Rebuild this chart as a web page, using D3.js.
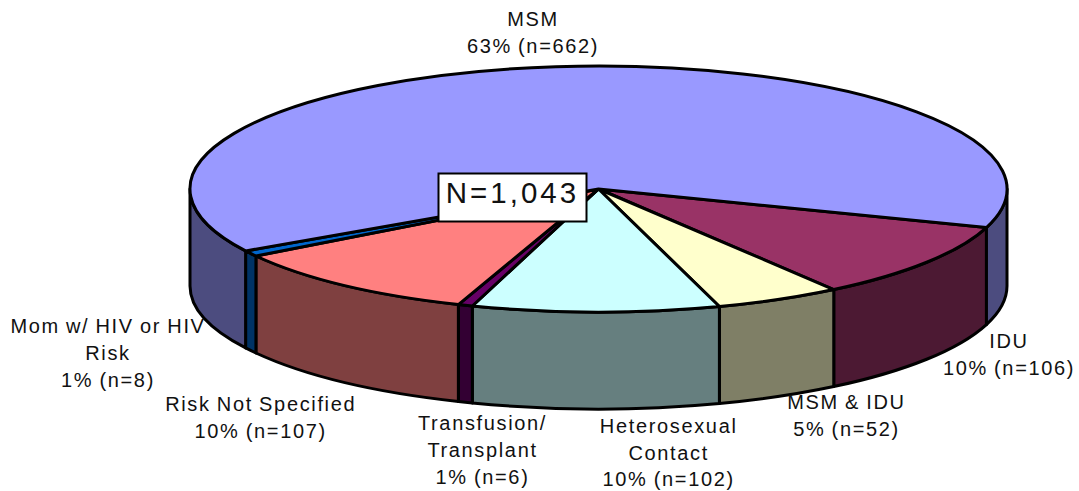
<!DOCTYPE html>
<html>
<head>
<meta charset="utf-8">
<script src="https://cdnjs.cloudflare.com/ajax/libs/d3/7.8.5/d3.min.js"></script>
<style>
html, body { margin: 0; padding: 0; background: #fff; }
svg { display: block; }
text { font-family: "Liberation Sans", Arial, sans-serif; fill: #111; }
</style>
</head>
<body>
<div id="chart"></div>
<script>
// listed clockwise, starting from the IDU edge on the right of the pie
var categories = ["IDU", "MSM & IDU", "Heterosexual Contact", "Transfusion/Transplant", "Risk Not Specified", "Mom w/ HIV or HIV Risk", "MSM"];
var counts = [106, 52, 102, 6, 107, 8, 662];
var topColours = ["#993366", "#FFFFCC", "#CCFFFF", "#660066", "#FF8080", "#0066CC", "#9999FF"];
var sideColours = ["#4C1933", "#7F7F66", "#667F7F", "#330033", "#7F4040", "#003366", "#4C4C7F"];
var labelLines = [
    ["IDU", "10% (n=106)"],
    ["MSM & IDU", "5% (n=52)"],
    ["Heterosexual", "Contact", "10% (n=102)"],
    ["Transfusion/", "Transplant", "1% (n=6)"],
    ["Risk Not Specified", "10% (n=107)"],
    ["Mom w/ HIV or HIV", "Risk", "1% (n=8)"],
    ["MSM", "63% (n=662)"]
];
var totalLabel = "N=1,043";

var width = 1079, height = 491;
var cx = 598.5, cy = 189, rx = 408.5, ry = 123, depth = 97;
var startDeg = 108.25;

// centre x and first baseline of every label block, same order as categories
var labelPos = [[1009, 348.3], [846.5, 409], [668.7, 432.8], [482.5, 430], [260.7, 410.7], [108, 333], [533, 26]];
var labelStep = 26.8;

var svg = d3.select("#chart").append("svg")
    .attr("width", width)
    .attr("height", height);

var rad = Math.PI / 180;
var pie = d3.pie().sort(null)
    .startAngle(startDeg * rad)
    .endAngle((startDeg + 360) * rad);
var slices = pie(counts);

function px(a) { return cx + rx * Math.sin(a); }
function py(a) { return cy - ry * Math.cos(a); }

function topPath(d) {
    var large = d.endAngle - d.startAngle > Math.PI ? 1 : 0;
    return "M" + cx + "," + cy +
        "L" + px(d.startAngle) + "," + py(d.startAngle) +
        "A" + rx + "," + ry + " 0 " + large + " 1 " + px(d.endAngle) + "," + py(d.endAngle) + "Z";
}

function wallPath(a0, a1) {
    return "M" + px(a0) + "," + py(a0) +
        "A" + rx + "," + ry + " 0 0 1 " + px(a1) + "," + py(a1) +
        "L" + px(a1) + "," + (py(a1) + depth) +
        "A" + rx + "," + ry + " 0 0 0 " + px(a0) + "," + (py(a0) + depth) + "Z";
}

// only the part of a slice facing the viewer gets a wall
var walls = [];
slices.forEach(function(d, i) {
    [0, 1].forEach(function(k) {
        var a0 = Math.max(d.startAngle, (90 + 360 * k) * rad);
        var a1 = Math.min(d.endAngle, (270 + 360 * k) * rad);
        if (a1 > a0) walls.push({a0: a0, a1: a1, i: i});
    });
});

svg.selectAll(".wall").data(walls).enter()
    .append("path")
    .attr("class", "wall")
    .attr("d", function(d) { return wallPath(d.a0, d.a1); })
    .attr("fill", function(d) { return sideColours[d.i]; })
    .attr("stroke", "#000")
    .attr("stroke-width", 3)
    .attr("stroke-linejoin", "round");

svg.selectAll(".slice").data(slices).enter()
    .append("path")
    .attr("class", "slice")
    .attr("d", topPath)
    .attr("fill", function(d, i) { return topColours[i]; })
    .attr("stroke", "#000")
    .attr("stroke-width", 3)
    .attr("stroke-linejoin", "round");

var labels = svg.selectAll(".label").data(labelLines).enter()
    .append("text")
    .attr("class", "label")
    .attr("text-anchor", "middle")
    .attr("font-size", 20)
    .attr("letter-spacing", 1.65)
    .attr("word-spacing", -1);

labels.selectAll("tspan").data(function(d, i) {
        return d.map(function(line) { return {line: line, i: i}; });
    }).enter()
    .append("tspan")
    .attr("x", function(d) { return labelPos[d.i][0]; })
    .attr("y", function(d, j) { return labelPos[d.i][1] + j * labelStep; })
    .text(function(d) { return d.line; });

svg.append("rect")
    .attr("x", 438.5)
    .attr("y", 173.5)
    .attr("width", 148)
    .attr("height", 48)
    .attr("fill", "#fff")
    .attr("stroke", "#000")
    .attr("stroke-width", 2);

svg.append("text")
    .attr("x", 512.5)
    .attr("y", 203)
    .attr("text-anchor", "middle")
    .attr("font-size", 29.5)
    .attr("letter-spacing", 3)
    .text(totalLabel);
</script>
</body>
</html>
